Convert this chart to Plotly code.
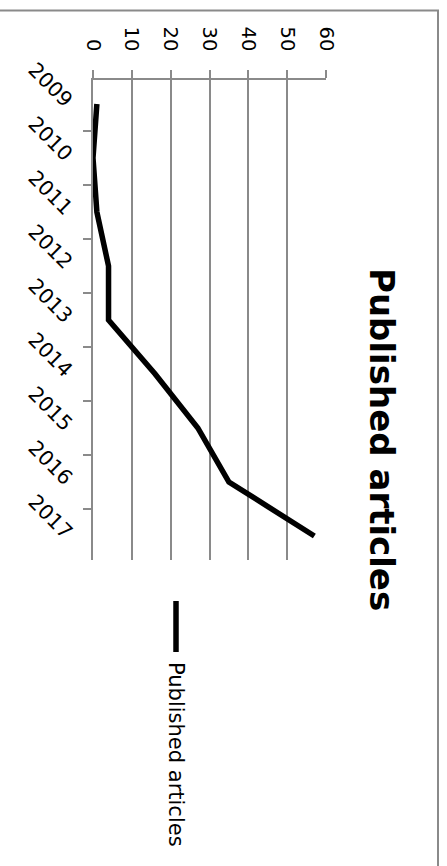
import plotly.graph_objects as go

years = ["2009", "2010", "2011", "2012", "2013", "2014", "2015", "2016", "2017"]
articles = [1, 0, 1, 4, 4, 16, 27, 35, 57]
series_name = "Published articles"
chart_title = "Published articles"

W, H = 447, 866
L, R, T, B = 93, 326, 80, 560  # plot area in px


def px_x(px):
    return (px - L) / (R - L)


def px_y(py):
    return (B - py) / (B - T)


GRAY = "#8a8a8a"
FONT = "DejaVu Sans"

fig = go.Figure()
fig.add_trace(go.Scatter(
    x=articles, y=years, mode="lines", name=series_name,
    line=dict(color="black", width=5.5), showlegend=False,
))

fig.update_layout(
    width=W, height=H, autosize=False,
    margin=dict(l=L, r=W - R, t=T, b=H - B, pad=0, autoexpand=False),
    paper_bgcolor="white", plot_bgcolor="white",
    font=dict(family=FONT, color="black"),
    xaxis=dict(
        range=[0, 60], dtick=10, side="top", tickangle=90, automargin=False,
        showgrid=True, gridcolor=GRAY, gridwidth=1.5,
        showline=True, linecolor=GRAY, linewidth=1.5,
        ticks="outside", ticklen=8, tickcolor=GRAY, tickwidth=1.5,
        ticklabelstandoff=12,
        zeroline=False, tickfont=dict(size=19.5, family=FONT),
    ),
    yaxis=dict(
        type="category", autorange="reversed", range=[8.5, -0.5], automargin=False,
        tickson="boundaries", ticks="outside", ticklen=8,
        tickcolor=GRAY, tickwidth=1.5,
        showline=True, linecolor=GRAY, linewidth=1.5,
        showgrid=False, zeroline=False, tickangle=45,
        ticklabelstandoff=16,
        tickfont=dict(size=20.5, family=FONT),
    ),
)

# chart border (partly outside view)
fig.add_shape(type="rect", xref="paper", yref="paper",
              x0=px_x(-20), x1=px_x(438), y0=px_y(900), y1=px_y(10.5),
              line=dict(color=GRAY, width=2), fillcolor="rgba(0,0,0,0)", layer="below")

# title (rotated)
fig.add_annotation(text="<b>" + chart_title + "</b>", xref="paper", yref="paper",
                   x=px_x(382), y=px_y(439), xanchor="center", yanchor="middle",
                   textangle=90, showarrow=False, font=dict(size=34, family=FONT, color="black"))

# legend (rotated)
fig.add_shape(type="line", xref="paper", yref="paper",
              x0=px_x(176), x1=px_x(176), y0=px_y(601), y1=px_y(652),
              line=dict(color="black", width=5.5))
fig.add_annotation(text=series_name, xref="paper", yref="paper",
                   x=px_x(176), y=px_y(754), xanchor="center", yanchor="middle",
                   textangle=90, showarrow=False, font=dict(size=21, family=FONT, color="black"))

fig.write_html("out.html", config={"displayModeBar": False},
               post_script="document.body.style.margin='0';document.body.style.overflow='hidden';")
